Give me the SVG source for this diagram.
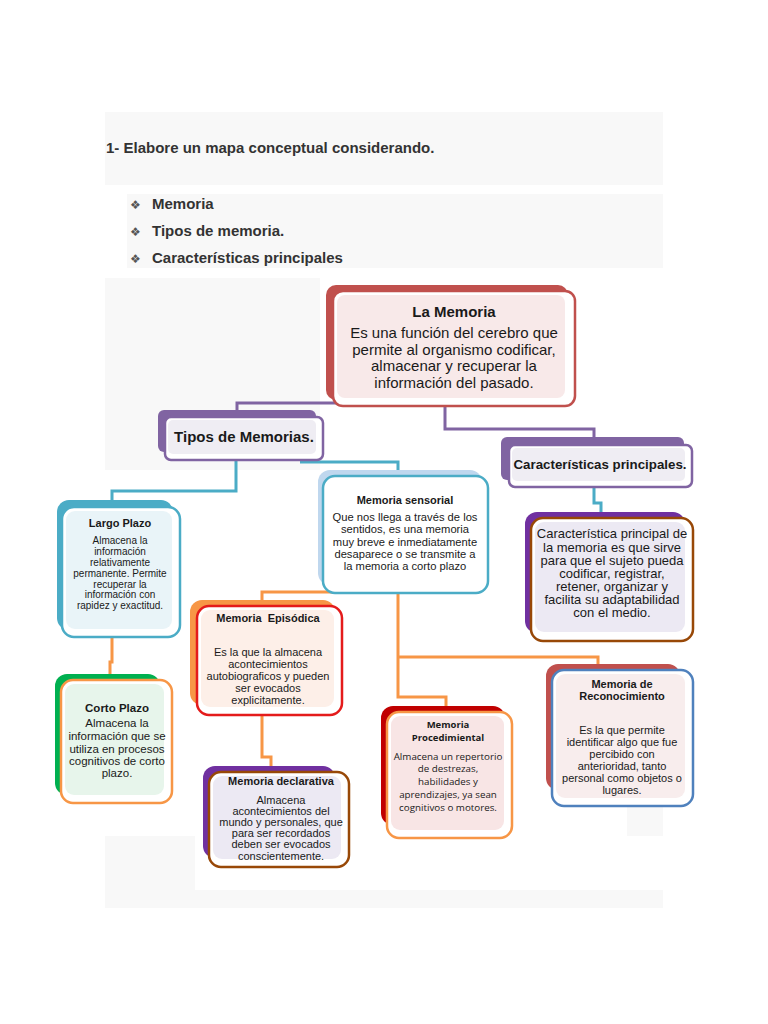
<svg xmlns="http://www.w3.org/2000/svg" width="768" height="1024" viewBox="0 0 768 1024">
<style>
.t{font-family:"Liberation Sans",Arial,sans-serif;fill:#1a1a1a;text-anchor:middle}
.b{font-weight:bold}
.h{font-family:"Liberation Sans",Arial,sans-serif;font-weight:bold;fill:#333;font-size:15px}
.c{font-family:"Open Sans","Liberation Sans",sans-serif;fill:#1a1a1a;text-anchor:middle}
.panel{fill:#f8f8f8}
.con{fill:none;stroke-width:3;stroke-linejoin:miter}
</style>
<rect width="768" height="1024" fill="#ffffff"/>
<rect class="panel" x="105" y="112" width="558" height="73"/>
<rect class="panel" x="127" y="194" width="536" height="74"/>
<rect class="panel" x="105" y="278" width="215" height="192" fill="#fafafa"/>
<rect class="panel" x="627" y="800" width="36" height="36"/>
<rect class="panel" x="105" y="836" width="90" height="55"/>
<rect class="panel" x="105" y="890" width="558" height="18"/>
<text class="h" x="106" y="153">1- Elabore un mapa conceptual considerando.</text>
<g font-family="DejaVu Sans,sans-serif" font-size="12" fill="#555">
<text x="130" y="209">❖</text><text x="130" y="236">❖</text><text x="130" y="263">❖</text>
</g>
<text class="h" x="152" y="209">Memoria</text>
<text class="h" x="152" y="236">Tipos de memoria.</text>
<text class="h" x="152" y="263">Características principales</text>

<g id="connectors">
<path class="con" stroke="#8064a2" d="M237,411 V403 H445 V429 H594 V438"/>
<path class="con" stroke="#4bacc6" d="M236,458 V491 H112 V501"/>
<path class="con" stroke="#4bacc6" d="M300,462 H398 V472"/>
<path class="con" stroke="#4bacc6" d="M594,486 V503 H601 V513"/>
<path class="con" stroke="#f79646" d="M112,636 V662 H110 V674"/>
<path class="con" stroke="#f79646" d="M398,590 V592 H262 V602"/>
<path class="con" stroke="#f79646" d="M398,590 V697 H446 V707"/>
<path class="con" stroke="#f79646" d="M398,657 H598 V665"/>
<path class="con" stroke="#f79646" d="M262,713 V757 H271 V768"/>
</g>

<g id="la-memoria">
<rect x="326" y="285" width="242" height="115" rx="10" fill="#c0504d"/>
<rect x="333" y="291" width="242" height="115" rx="10" fill="#fff" stroke="#c0504d" stroke-width="2.5"/>
<rect x="337" y="295" width="228" height="103" rx="8" fill="#f8e9e9"/>
<text class="t b" x="454" y="317" font-size="15">La Memoria</text>
<text class="t" x="454" y="338" font-size="15">Es una función del cerebro que</text>
<text class="t" x="454" y="355" font-size="15">permite al organismo codificar,</text>
<text class="t" x="454" y="371" font-size="15">almacenar y recuperar la</text>
<text class="t" x="454" y="388" font-size="15">información del pasado.</text>
</g>

<g id="tipos">
<rect x="158" y="410" width="158" height="42" rx="6" fill="#8064a2"/>
<rect x="165" y="417" width="158" height="43" rx="6" fill="#fff" stroke="#8064a2" stroke-width="2.5"/>
<rect x="168" y="420" width="148" height="34" rx="5" fill="#efedf3"/>
<text class="t b" x="244" y="442" font-size="15">Tipos de Memorias.</text>
</g>

<g id="caracteristicas">
<rect x="501" y="437" width="183" height="43" rx="6" fill="#8064a2"/>
<rect x="509" y="445" width="183" height="42" rx="6" fill="#fff" stroke="#8064a2" stroke-width="2.5"/>
<rect x="512" y="448" width="173" height="33" rx="5" fill="#efedf3"/>
<text class="t b" x="600" y="469" font-size="13.3">Características principales.</text>
</g>

<g id="largo-plazo">
<rect x="57" y="500" width="116" height="130" rx="12" fill="#4bacc6"/>
<rect x="62" y="507" width="118" height="130" rx="12" fill="#fff" stroke="#4bacc6" stroke-width="2.5"/>
<rect x="66" y="511" width="106" height="118" rx="9" fill="#e9f4f8"/>
<text class="t b" x="120" y="527" font-size="11">Largo Plazo</text>
<g class="t" font-size="10">
<text x="120" y="544">Almacena la</text>
<text x="120" y="555">información</text>
<text x="120" y="566">relativamente</text>
<text x="120" y="577">permanente. Permite</text>
<text x="120" y="588">recuperar la</text>
<text x="120" y="598">información con</text>
<text x="120" y="609">rapidez y exactitud.</text>
</g>
</g>

<g id="sensorial">
<rect x="318" y="470" width="164" height="115" rx="12" fill="#bfd7ee"/>
<rect x="323" y="476" width="165" height="117" rx="12" fill="#fff" stroke="#4bacc6" stroke-width="2.5"/>
<text class="t b" x="405" y="504" font-size="11">Memoria sensorial</text>
<g class="t" font-size="11.2">
<text x="405" y="521">Que nos llega a través de los</text>
<text x="405" y="533">sentidos, es una memoria</text>
<text x="405" y="546">muy breve e inmediatamente</text>
<text x="405" y="558">desaparece o se transmite a</text>
<text x="405" y="570">la memoria a corto plazo</text>
</g>
</g>

<g id="caract-texto">
<rect x="525" y="512" width="160" height="121" rx="12" fill="#7030a0"/>
<rect x="531" y="518" width="162" height="123" rx="12" fill="#fff" stroke="#984807" stroke-width="2.5"/>
<rect x="535" y="522" width="150" height="110" rx="9" fill="#ece9f3"/>
<g class="t" font-size="13">
<text x="612" y="538">Característica principal de</text>
<text x="612" y="552">la memoria es que sirve</text>
<text x="612" y="565">para que el sujeto pueda</text>
<text x="612" y="578">codificar, registrar,</text>
<text x="612" y="591">retener, organizar y</text>
<text x="612" y="604">facilita su adaptabilidad</text>
<text x="612" y="617">con el medio.</text>
</g>
</g>

<g id="episodica">
<rect x="190" y="600" width="145" height="105" rx="12" fill="#f79646"/>
<rect x="197" y="606" width="145" height="109" rx="12" fill="#fff" stroke="#e41b1b" stroke-width="2.5"/>
<rect x="201" y="610" width="133" height="97" rx="9" fill="#fdefe8"/>
<text class="t b" x="268" y="622" font-size="11" xml:space="preserve">Memoria  Episódica</text>
<g class="t" font-size="11">
<text x="268" y="656">Es la que la almacena</text>
<text x="268" y="668">acontecimientos</text>
<text x="268" y="680">autobiograficos y pueden</text>
<text x="268" y="692">ser evocados</text>
<text x="268" y="704">explicitamente.</text>
</g>
</g>

<g id="corto-plazo">
<rect x="55" y="674" width="105" height="121" rx="12" fill="#00b050"/>
<rect x="61" y="680" width="111" height="123" rx="12" fill="#fff" stroke="#f79646" stroke-width="2.5"/>
<rect x="65" y="684" width="99" height="111" rx="9" fill="#e7f5eb"/>
<text class="t b" x="117" y="712" font-size="11.5">Corto Plazo</text>
<g class="t" font-size="11.5">
<text x="117" y="727">Almacena la</text>
<text x="117" y="740">información que se</text>
<text x="117" y="753">utiliza en procesos</text>
<text x="117" y="765">cognitivos de corto</text>
<text x="117" y="777">plazo.</text>
</g>
</g>

<g id="declarativa">
<rect x="203" y="766" width="132" height="92" rx="12" fill="#7030a0"/>
<rect x="209" y="772" width="140" height="95" rx="12" fill="#fff" stroke="#984807" stroke-width="2.5"/>
<rect x="213" y="776" width="128" height="83" rx="9" fill="#ece9f3"/>
<text class="t b" x="281" y="785" font-size="11">Memoria declarativa</text>
<g class="t" font-size="11">
<text x="281" y="804">Almacena</text>
<text x="281" y="815">acontecimientos del</text>
<text x="281" y="826">mundo y personales, que</text>
<text x="281" y="837">para ser recordados</text>
<text x="281" y="848">deben ser evocados</text>
<text x="281" y="860">conscientemente.</text>
</g>
</g>

<g id="procedimiental">
<rect x="381" y="706" width="124" height="119" rx="12" fill="#c00000"/>
<rect x="387" y="712" width="125" height="126" rx="12" fill="#fff" stroke="#f79646" stroke-width="2.5"/>
<rect x="391" y="716" width="113" height="114" rx="9" fill="#f8e5e5"/>
<g class="c b" font-size="9.5">
<text x="448" y="728">Memoria</text>
<text x="448" y="741">Procedimiental</text>
</g>
<g class="c" font-size="9.8">
<text x="448" y="760">Almacena un repertorio</text>
<text x="448" y="772">de destrezas,</text>
<text x="448" y="785">habilidades y</text>
<text x="448" y="798">aprendizajes, ya sean</text>
<text x="448" y="811">cognitivos o motores.</text>
</g>
</g>

<g id="reconocimiento">
<rect x="546" y="664" width="134" height="126" rx="12" fill="#c0504d"/>
<rect x="552" y="670" width="141" height="136" rx="12" fill="#fff" stroke="#4f81bd" stroke-width="2.5"/>
<rect x="556" y="674" width="129" height="124" rx="9" fill="#f8eded"/>
<g class="t b" font-size="11">
<text x="622" y="688">Memoria de</text>
<text x="622" y="700">Reconocimiento</text>
</g>
<g class="t" font-size="11">
<text x="622" y="734">Es la que permite</text>
<text x="622" y="746">identificar algo que fue</text>
<text x="622" y="758">percibido con</text>
<text x="622" y="770">anterioridad, tanto</text>
<text x="622" y="782">personal como objetos o</text>
<text x="622" y="794">lugares.</text>
</g>
</g>
</svg>
